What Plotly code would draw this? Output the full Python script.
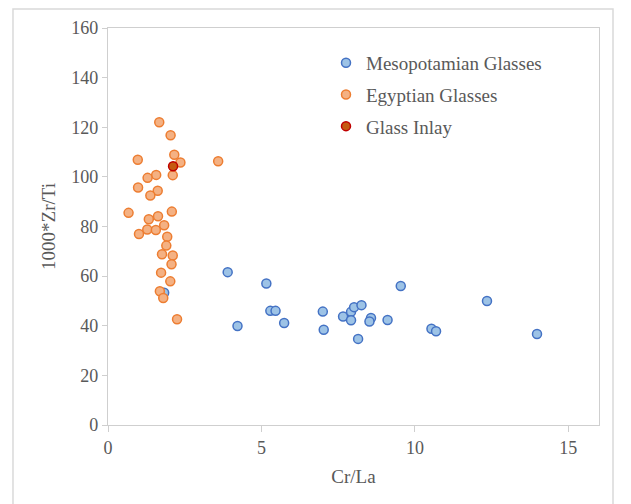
import plotly.graph_objects as go

# Mesopotamian glasses
meso_cr_la = [3.90, 5.16, 4.22, 5.29, 5.46, 5.74, 7.00, 7.03, 7.66, 7.92,
              8.02, 7.92, 8.26, 8.57, 8.52, 9.11, 8.15, 9.54, 12.35, 10.54,
              10.69, 13.98, 1.83]
meso_zr_ti = [61.6, 57.0, 39.9, 46.0, 46.0, 41.1, 45.7, 38.4, 43.7, 45.6,
              47.5, 42.2, 48.3, 43.1, 41.7, 42.3, 34.7, 56.0, 50.0, 38.8,
              37.8, 36.7, 53.3]

# Egyptian glasses
egy_cr_la = [1.67, 2.04, 0.97, 2.16, 2.36, 3.59, 1.57, 1.29, 2.11, 0.98,
             1.62, 1.38, 0.67, 2.08, 1.33, 1.63, 1.83, 1.28, 1.56, 1.01,
             1.93, 1.90, 1.76, 2.11, 2.07, 1.73, 2.03, 1.69, 1.80, 2.25]
egy_zr_ti = [122.0, 116.8, 106.9, 108.9, 105.8, 106.3, 100.8, 99.6, 100.7, 95.7,
             94.4, 92.5, 85.5, 86.0, 82.9, 84.1, 80.5, 78.8, 78.6, 77.0,
             75.9, 72.3, 68.8, 68.3, 64.8, 61.4, 57.9, 53.9, 51.2, 42.6]

# Glass inlay
inlay_cr_la = [2.12]
inlay_zr_ti = [104.3]

x_ticks = [0, 5, 10, 15]
y_ticks = [0, 20, 40, 60, 80, 100, 120, 140, 160]

FONT = "Liberation Serif"
AXIS_GRAY = "#cfcfcf"
TEXT_GRAY = "#595959"

fig = go.Figure()

series = [
    ("Mesopotamian Glasses", meso_cr_la, meso_zr_ti, "#9DC3E6", "#4472C4"),
    ("Egyptian Glasses", egy_cr_la, egy_zr_ti, "#F4B183", "#ED7D31"),
    ("Glass Inlay", inlay_cr_la, inlay_zr_ti, "#C55A11", "#C00000"),
]
for i, (name, xs, ys, fill, edge) in enumerate(series):
    fig.add_trace(go.Scatter(
        x=xs, y=ys, mode="markers", name=name, legendgroup=f"g{i}",
        marker=dict(size=9, color=fill, line=dict(color=edge, width=1.5)),
    ))

axis_common = dict(
    showgrid=False, zeroline=False, showline=True, mirror=True,
    linecolor=AXIS_GRAY, linewidth=1.2,
    ticks="outside", tickcolor=AXIS_GRAY, tickwidth=1.2,
    tickfont=dict(family=FONT, size=18, color=TEXT_GRAY),
)

fig.update_xaxes(
    range=[0, 16], tickvals=x_ticks, ticklen=6,
    title=dict(text="Cr/La", font=dict(family=FONT, size=19, color=TEXT_GRAY), standoff=12),
    **axis_common,
)
fig.update_yaxes(
    range=[0, 160], tickvals=y_ticks, ticklen=5,
    title=dict(text="1000*Zr/Ti", font=dict(family=FONT, size=19, color=TEXT_GRAY), standoff=10),
    **axis_common,
)

# light frame around the whole chart
fig.add_shape(type="rect", xref="paper", yref="paper",
              x0=-0.1935, x1=1.0285, y0=-0.3, y1=1.048,
              line=dict(color="#d9d9d9", width=1.5), fillcolor="rgba(0,0,0,0)",
              layer="below")

fig.update_layout(
    width=631, height=504,
    margin=dict(l=108, r=32, t=28, b=79),
    paper_bgcolor="white", plot_bgcolor="white",
    font=dict(family=FONT, size=18, color=TEXT_GRAY),
    showlegend=True,
    legend=dict(
        x=0.444, y=0.96, xanchor="left", yanchor="top",
        traceorder="grouped", tracegroupgap=4,
        bgcolor="rgba(0,0,0,0)",
        font=dict(family=FONT, size=19, color=TEXT_GRAY),
    ),
)

fig.write_html("out.html")
